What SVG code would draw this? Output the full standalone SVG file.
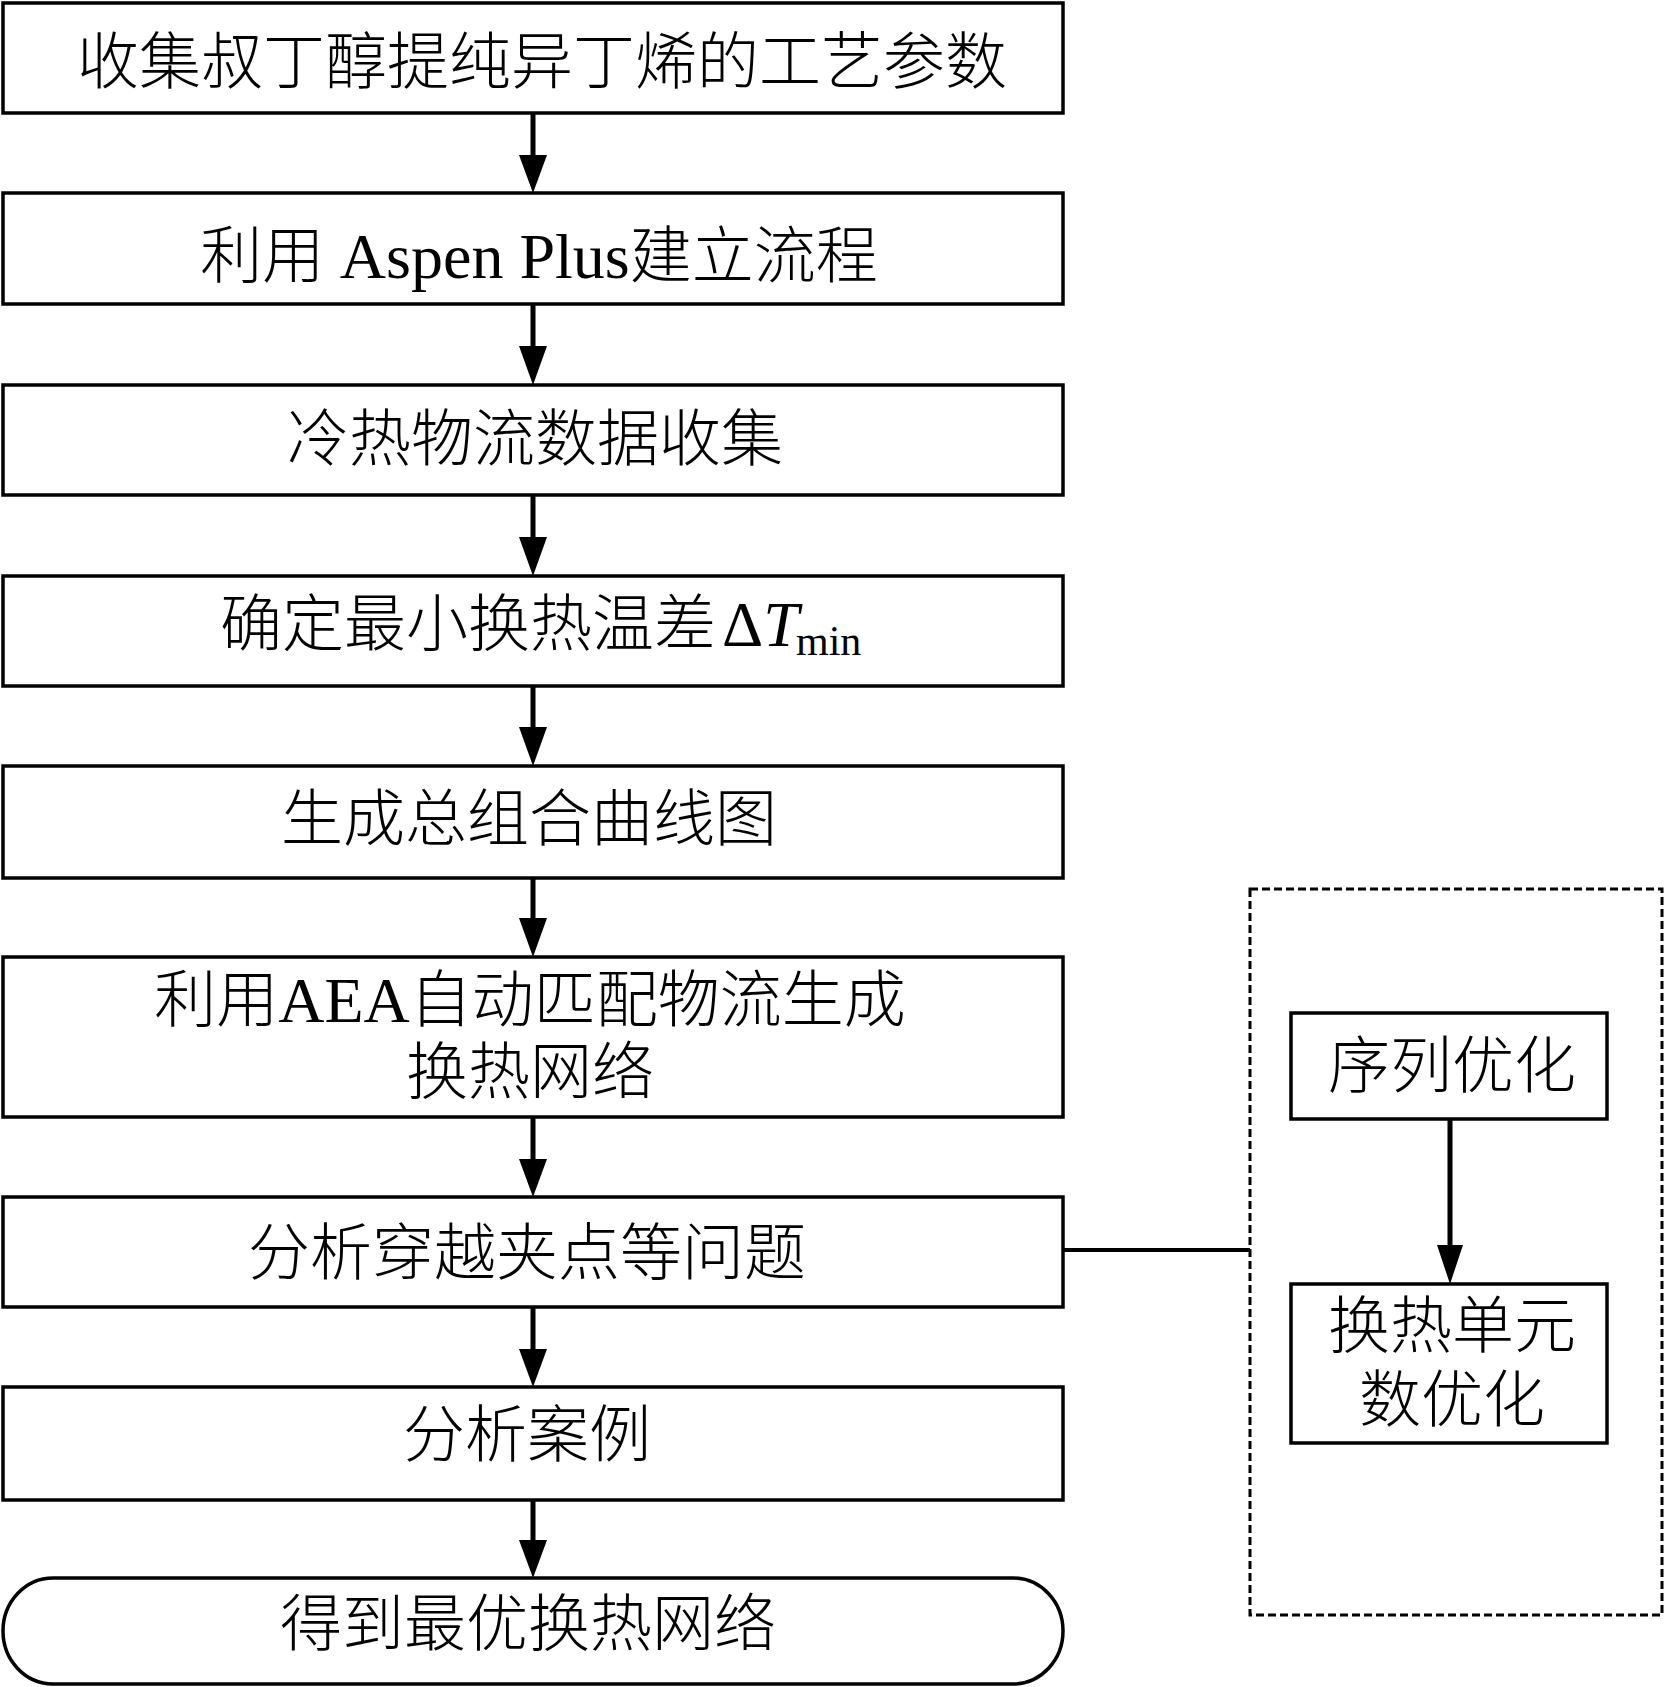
<svg xmlns="http://www.w3.org/2000/svg" width="1665" height="1687" viewBox="0 0 1665 1687">
<style>
.box{fill:#fff;stroke:#000;stroke-width:3.5}
.t{font-family:"Liberation Serif","Noto Sans CJK SC",serif;font-size:62px;fill:#000;text-anchor:middle;font-weight:300}
.lat{font-family:"Liberation Serif",serif;font-size:64px;font-weight:400}
.ln{stroke:#000;stroke-width:5;fill:none}
.ah{fill:#000}
.dash{fill:none;stroke:#000;stroke-width:3;stroke-dasharray:8 4}
</style>
<rect width="1665" height="1687" fill="#fff"/>
<g id="connectors">
<line class="ln" x1="533" y1="113" x2="533" y2="160"/><polygon class="ah" points="519,155 547,155 533,193"/>
<line class="ln" x1="533" y1="304" x2="533" y2="350"/><polygon class="ah" points="519,346 547,346 533,385"/>
<line class="ln" x1="533" y1="495" x2="533" y2="542"/><polygon class="ah" points="519,537 547,537 533,576"/>
<line class="ln" x1="533" y1="686" x2="533" y2="732"/><polygon class="ah" points="519,727 547,727 533,766"/>
<line class="ln" x1="533" y1="878" x2="533" y2="924"/><polygon class="ah" points="519,918 547,918 533,957"/>
<line class="ln" x1="533" y1="1117" x2="533" y2="1164"/><polygon class="ah" points="519,1159 547,1159 533,1197"/>
<line class="ln" x1="533" y1="1307" x2="533" y2="1354"/><polygon class="ah" points="519,1349 547,1349 533,1387"/>
<line class="ln" x1="533" y1="1500" x2="533" y2="1545"/><polygon class="ah" points="519,1540 547,1540 533,1578"/>
<line class="ln" x1="1063" y1="1250" x2="1250" y2="1250" style="stroke-width:4"/>
<line class="ln" x1="1450" y1="1119" x2="1450" y2="1250"/><polygon class="ah" points="1437,1245 1463,1245 1450,1284"/>
</g>
<g id="group-optim">
<rect class="dash" x="1250" y="889" width="412" height="726"/>
</g>
<g id="n1"><rect class="box" x="3" y="3" width="1060" height="110"/>
<text class="t" x="542" y="84">收集叔丁醇提纯异丁烯的工艺参数</text></g>
<g id="n2"><rect class="box" x="3" y="193" width="1060" height="111"/>
<text class="t" x="539" y="278">利用 <tspan class="lat">Aspen Plus</tspan>建立流程</text></g>
<g id="n3"><rect class="box" x="3" y="385" width="1060" height="110"/>
<text class="t" x="535" y="461">冷热物流数据收集</text></g>
<g id="n4"><rect class="box" x="3" y="576" width="1060" height="110"/>
<text class="t" x="220" y="646" style="text-anchor:start">确定最小换热温差<tspan class="lat" x="722">Δ</tspan><tspan class="lat" font-style="italic">T</tspan><tspan class="lat" x="796" y="655" style="font-size:42px">min</tspan></text></g>
<g id="n5"><rect class="box" x="3" y="766" width="1060" height="112"/>
<text class="t" x="529" y="841">生成总组合曲线图</text></g>
<g id="n6"><rect class="box" x="3" y="957" width="1060" height="160"/>
<text class="t" x="530" y="1022">利用<tspan class="lat">AEA</tspan>自动匹配物流生成</text>
<text class="t" x="530" y="1094">换热网络</text></g>
<g id="n7"><rect class="box" x="3" y="1197" width="1060" height="110"/>
<text class="t" x="527" y="1275">分析穿越夹点等问题</text></g>
<g id="n8"><rect class="box" x="3" y="1387" width="1060" height="113"/>
<text class="t" x="527" y="1457">分析案例</text></g>
<g id="n9"><rect class="box" x="3" y="1578" width="1060" height="106" rx="50" ry="53"/>
<text class="t" x="528" y="1646">得到最优换热网络</text></g>
<g id="r1"><rect class="box" x="1291" y="1013" width="316" height="106"/>
<text class="t" x="1452" y="1088">序列优化</text></g>
<g id="r2"><rect class="box" x="1291" y="1284" width="316" height="159"/>
<text class="t" x="1452" y="1348">换热单元</text>
<text class="t" x="1452" y="1422">数优化</text></g>
</svg>
